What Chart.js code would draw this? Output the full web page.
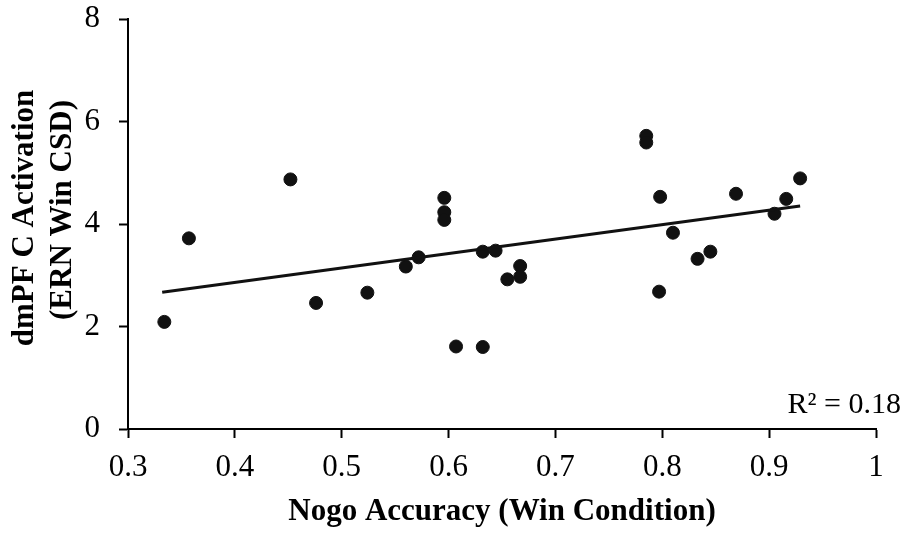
<!DOCTYPE html>
<html>
<head>
<meta charset="utf-8">
<script src="https://cdn.jsdelivr.net/npm/chart.js@4"></script>
<style>
  html, body { margin: 0; padding: 0; background: #fff; }
  #wrap { width: 908px; height: 533px; }
</style>
</head>
<body>
<div id="wrap"><canvas id="scatterChart"></canvas></div>
<script>
// Nogo accuracy (win condition) per subject
const accuracy = [0.334, 0.357, 0.452, 0.476, 0.524, 0.560, 0.572, 0.596, 0.596, 0.596,
    0.607, 0.632, 0.632, 0.644, 0.655, 0.667, 0.667, 0.785, 0.785, 0.798,
    0.810, 0.797, 0.833, 0.845, 0.869, 0.905, 0.916, 0.929];
// dmPFC activation (ERN win CSD)
const activation = [2.09, 3.72, 4.87, 2.46, 2.66, 3.17, 3.35, 4.51, 4.23, 4.08,
    1.61, 1.60, 3.46, 3.48, 2.92, 3.18, 2.97, 5.72, 5.59, 4.53,
    3.83, 2.68, 3.32, 3.46, 4.59, 4.20, 4.49, 4.89];
// fitted trend line end points
const trendX = [0.332, 0.929];
const trendY = [2.67, 4.35];
const rSquared = '0.18';

const xTicks = [0.3, 0.4, 0.5, 0.6, 0.7, 0.8, 0.9, 1];
const yTicks = [0, 2, 4, 6, 8];
const yTitle = ['dmPF C Activation', '(ERN Win CSD)'];

const serif = 'Liberation Serif';

// R² note and the two-line y title, placed like the original figure
const extraText = {
    id: 'extraText',
    afterDraw(chart) {
        const c = chart.ctx;
        c.save();
        c.fillStyle = '#000';
        c.font = '30px "' + serif + '"';
        c.textAlign = 'right';
        c.textBaseline = 'alphabetic';
        c.fillText('R\u00B2 = ' + rSquared, 901, 413);

        c.font = 'bold 31px "' + serif + '"';
        c.textAlign = 'center';
        c.textBaseline = 'middle';
        const spots = [[25, 218], [63, 210]];
        yTitle.forEach((line, i) => {
            c.save();
            c.translate(spots[i][0], spots[i][1]);
            c.rotate(-Math.PI / 2);
            c.fillText(line, 0, 0);
            c.restore();
        });
        c.restore();
    }
};

const ctx = document.getElementById('scatterChart').getContext('2d');
const scatterChart = new Chart(ctx, {
    type: 'scatter',
    data: {
        datasets: [
            {
                label: 'Subjects',
                data: accuracy.map((x, i) => ({ x: x, y: activation[i] })),
                backgroundColor: '#111',
                borderColor: '#111',
                pointRadius: 6.5,
                pointHoverRadius: 6.5,
                order: 2
            },
            {
                type: 'line',
                label: 'Trend',
                data: trendX.map((x, i) => ({ x: x, y: trendY[i] })),
                borderColor: '#111',
                borderWidth: 3,
                pointRadius: 0,
                fill: false,
                order: 1
            }
        ]
    },
    options: {
        responsive: true,
        maintainAspectRatio: false,
        animation: false,
        layout: { padding: { top: 19, right: 32, left: 0, bottom: 0 } },
        plugins: {
            legend: { display: false },
            tooltip: { enabled: false }
        },
        scales: {
            x: {
                type: 'linear',
                min: xTicks[0],
                max: xTicks[xTicks.length - 1],
                afterBuildTicks: (axis) => { axis.ticks = xTicks.map(v => ({ value: v })); },
                afterFit: (axis) => { axis.height = 104; },
                border: { color: '#000', width: 2 },
                grid: { drawOnChartArea: false, tickLength: 9, tickColor: '#000', tickWidth: 2 },
                ticks: {
                    color: '#000',
                    padding: 11,
                    maxRotation: 0,
                    font: { family: serif, size: 31 },
                    callback: (v) => String(Number(v.toFixed(1)))
                },
                title: {
                    display: true,
                    text: 'Nogo Accuracy (Win Condition)',
                    color: '#000',
                    padding: { top: 0, bottom: 2 },
                    font: { family: serif, size: 31, weight: 'bold' }
                }
            },
            y: {
                min: yTicks[0],
                max: yTicks[yTicks.length - 1],
                afterBuildTicks: (axis) => { axis.ticks = yTicks.map(v => ({ value: v })); },
                afterFit: (axis) => {
                    axis.width = 128;
                    axis.paddingTop = 0;
                    axis.paddingBottom = 0;
                },
                border: { color: '#000', width: 2 },
                grid: { drawOnChartArea: false, tickLength: 9, tickColor: '#000', tickWidth: 2 },
                ticks: {
                    color: '#000',
                    padding: 19,
                    font: { family: serif, size: 31 }
                }
            }
        }
    },
    plugins: [extraText]
});
</script>
</body>
</html>
